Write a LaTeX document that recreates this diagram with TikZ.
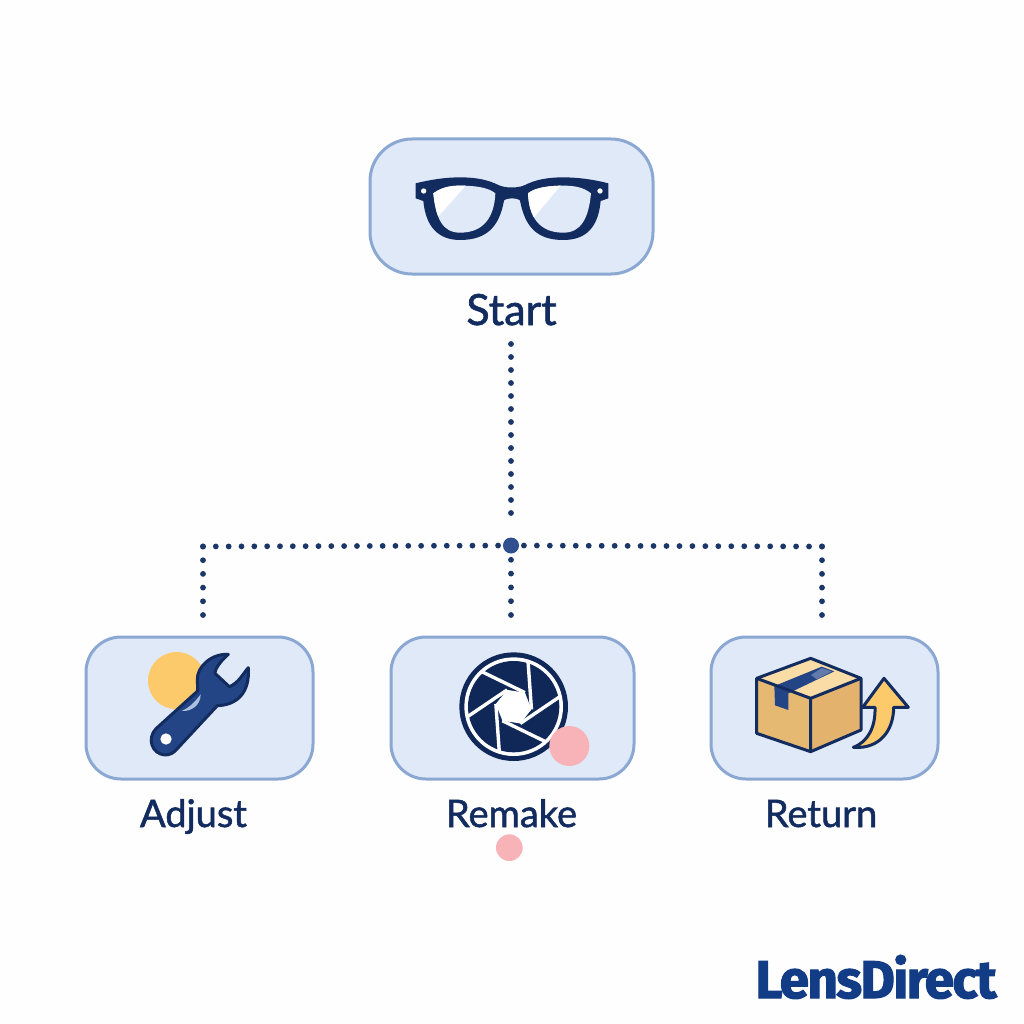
\documentclass[tikz,border=0pt]{standalone}
\usepackage{fontspec}
\setmainfont{Lato}
\newfontfamily\lblfont[FakeBold=1.4]{Lato}
\newfontfamily\logofont[FakeBold=2.2,LetterSpace=-3]{Fira Sans Bold}
\definecolor{navy}{HTML}{132C60}
\definecolor{shutterc}{HTML}{0F2858}
\definecolor{boxfill}{HTML}{E0E9F8}
\definecolor{boxline}{HTML}{8BA8D3}
\definecolor{dotc}{HTML}{1B3668}
\definecolor{hubc}{HTML}{2F4F8F}
\definecolor{amber}{HTML}{FCC96B}
\definecolor{pinkc}{HTML}{F8B3B9}
\definecolor{wrenchc}{HTML}{234585}
\definecolor{logoc}{HTML}{123C85}
\definecolor{cardfront}{HTML}{E6B973}
\definecolor{cardside}{HTML}{E3B36E}
\definecolor{cardtop}{HTML}{FADCA6}
\tikzset{
  cardbox/.style={draw=boxline,fill=boxfill,line width=3pt,inner sep=0pt},
  lbl/.style={font=\lblfont\fontsize{38}{38}\selectfont,text=navy,anchor=base,inner sep=0pt},
  dotline/.style={draw=dotc,line width=5.8pt,line cap=round,dash pattern=on 0pt off #1},
  zoomed/.style={x=0.33333pt,y=-0.33333pt},
  outl/.style={draw=navy,line join=round,line width=3pt}
}
\begin{document}
\begin{tikzpicture}[x=1pt,y=-1pt]
\useasboundingbox (0,0) rectangle (1024,1024);
\fill[white!99.5!black] (0,0) rectangle (1024,1024);

% boxes
\node[cardbox,minimum width=283pt,minimum height=135pt,rounded corners=42pt] (startbox) at (511.5,206.5) {};
\node[cardbox,minimum width=227pt,minimum height=142pt,rounded corners=35pt] (adjustbox) at (199.5,708) {};
\node[cardbox,minimum width=243pt,minimum height=142pt,rounded corners=35pt] (remakebox) at (512.5,708) {};
\node[cardbox,minimum width=227pt,minimum height=142pt,rounded corners=35pt] (returnbox) at (824.5,708) {};

% labels
\node[lbl,font=\lblfont\fontsize{43}{43}\selectfont] (startlbl) at (511.5,325) {Start};
\node[lbl] (adjustlbl) at (193.5,827) {Adjust};
\node[lbl] (remakelbl) at (511.5,827) {Remake};
\node[lbl] (returnlbl) at (821,827) {Return};
\node[font=\logofont\fontsize{53}{53}\selectfont,text=logoc,anchor=base,inner sep=0pt] (logo) at (876,998) {LensDirect};

% connectors
\coordinate (topend) at (511,344);
\coordinate (upend) at (511,526);
\coordinate (hubL) at (203,546.5);
\coordinate (hubR) at (822,546.5);
\coordinate (dropL) at (203,615);
\coordinate (dropM) at (511,615);
\coordinate (dropR) at (822,615);
\coordinate (hubc) at (511,545.5);
\draw[dotline=13pt] (topend) -- (upend);
\draw[dotline=12.83pt] (hubL) -- (hubc);
\draw[dotline=12.96pt] (hubR) -- (hubc);
\draw[dotline=13.7pt] (hubL) -- (dropL);
\draw[dotline=13.7pt] (hubR) -- (dropR);
\draw[dotline=13.8pt] (dropM) -- (hubc);
\node[circle,fill=hubc,minimum size=16pt,inner sep=0pt] (hub) at (hubc) {};

% glasses
\begin{scope}[shift={(360,130)},zoomed]
\fill[navy,even odd rule]
 (167,160) .. controls (215,148) and (260,142) .. (300,142)
 .. controls (350,142) and (385,150) .. (415,165)
 .. controls (435,175) and (475,175) .. (495,165)
 .. controls (525,150) and (560,142) .. (610,142)
 .. controls (650,142) and (700,148) .. (745,160)
 -- (745,205) -- (722,213)
 .. controls (715,290) and (680,330) .. (610,330)
 .. controls (530,330) and (495,290) .. (480,212)
 .. controls (475,203) and (437,203) .. (432,212)
 .. controls (418,290) and (380,330) .. (300,330)
 .. controls (235,330) and (197,290) .. (190,213)
 -- (167,205) -- cycle;
\def\lensL{(220,190) .. controls (245,172) and (270,167) .. (300,167) .. controls (345,167) and (385,172) .. (406,190) .. controls (403,260) and (372,308) .. (300,308) .. controls (247,308) and (228,265) .. (220,190) -- cycle}
\def\lensR{(504,190) .. controls (525,172) and (570,167) .. (610,167) .. controls (645,167) and (670,172) .. (693,190) .. controls (686,265) and (663,308) .. (610,308) .. controls (537,308) and (507,260) .. (504,190) -- cycle}
\fill[boxfill] \lensL;
\fill[boxfill] \lensR;
\begin{scope}
\clip \lensL;
\fill[white] (205,155) -- (328,155) -- (236,258) -- (205,258) -- cycle;
\end{scope}
\begin{scope}
\clip \lensR;
\fill[white] (490,155) -- (612,155) -- (522,262) -- (490,262) -- cycle;
\end{scope}
\fill[white] (191,183) circle[radius=8];
\fill[white] (720,183) circle[radius=8];
\end{scope}

% wrench
\begin{scope}[shift={(80,630)},zoomed]
\fill[amber] (290,152) circle[radius=86];
\draw[outl,fill=wrenchc]
 (445,73) .. controls (395,70) and (350,110) .. (352,150)
 .. controls (352,165) and (355,178) .. (352,184)
 -- (228,296)
 .. controls (200,325) and (215,372) .. (255,375)
 .. controls (270,375) and (282,368) .. (290,358)
 -- (412,227)
 .. controls (470,225) and (510,190) .. (505,113)
 .. controls (490,130) and (475,160) .. (448,170)
 -- (405,130) .. controls (405,115) and (425,90) .. (445,73) -- cycle;
\fill[white] (258,327) circle[radius=17];
\fill[boxline!70!white] (305,243) .. controls (330,232) and (345,215) .. (362,193) .. controls (362,225) and (335,245) .. (305,243) -- cycle;
\end{scope}

% shutter
\begin{scope}[shift={(385,630)},zoomed]
\fill[shutterc] (386,230) circle[radius=163];
\fill[white] (386,230) circle[radius=148];
\fill[shutterc] (386,230) circle[radius=137];
\foreach \k in {0,...,5}{
  \pgfmathsetmacro{\aa}{-132.3+60*\k}
  \pgfmathsetmacro{\bb}{-51.3+60*\k}
  \draw[white,line width=3.4pt] ({386+142*cos(\aa)},{230+142*sin(\aa)}) -- ({386+54*cos(\bb)},{230+54*sin(\bb)});
}
\fill[white] ({386+54*cos(-51.3)},{230+54*sin(-51.3)})
 -- ({386+54*cos(8.7)},{230+54*sin(8.7)})
 -- ({386+54*cos(68.7)},{230+54*sin(68.7)})
 -- ({386+54*cos(128.7)},{230+54*sin(128.7)})
 -- ({386+54*cos(188.7)},{230+54*sin(188.7)})
 -- ({386+54*cos(248.7)},{230+54*sin(248.7)}) -- cycle;
\fill[pinkc] (553,348) circle[radius=60];
\fill[pinkc] (373,653) circle[radius=40];
\end{scope}

% parcel and arrow
\begin{scope}[shift={(705,630)},zoomed]
\draw[outl,fill=amber] (537,145) -- (610,232) -- (566,232)
 .. controls (566,300) and (525,358) .. (445,352)
 .. controls (490,335) and (512,290) .. (510,232)
 -- (473,232) -- cycle;
\fill[cardfront] (155,145) -- (317,205) -- (317,365) -- (155,310) -- cycle;
\fill[cardside] (468,145) -- (317,205) -- (317,365) -- (468,300) -- cycle;
\fill[cardtop] (155,145) -- (317,85) -- (468,145) -- (317,205) -- cycle;
\fill[wrenchc] (208,168) -- (350,110) -- (388,124) -- (250,190) -- (250,240) -- (210,226) -- cycle;
\fill[hubc!75!white] (318,135) -- (350,114) -- (380,124) -- (335,148) -- cycle;
\draw[outl] (155,145) -- (317,85) -- (468,145) -- (468,300) -- (317,365) -- (155,310) -- cycle;
\draw[outl] (155,145) -- (317,205) -- (468,145) (317,205) -- (317,365);
\end{scope}
\end{tikzpicture}
\end{document}
